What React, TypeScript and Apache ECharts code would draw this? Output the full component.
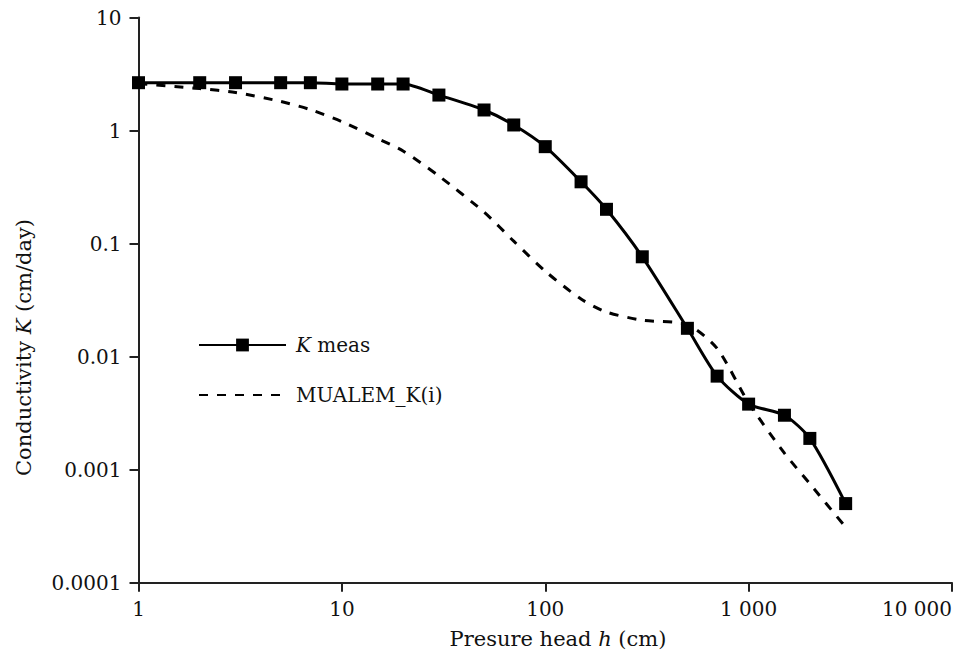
import React, { useEffect, useRef } from "react";
import * as echarts from "echarts";

const hValues = [1, 2, 3, 5, 7, 10, 15, 20, 30, 50, 70, 100, 150, 200, 300, 500, 700, 1000, 1500, 2000, 3000];
const kMeas = [2.65, 2.65, 2.65, 2.65, 2.65, 2.58, 2.58, 2.58, 2.06, 1.52, 1.12, 0.72, 0.352, 0.201, 0.0764, 0.0178, 0.00672, 0.0038, 0.00303, 0.00189, 0.000501];
const kMualem = [2.6, 2.35, 2.17, 1.81, 1.53, 1.2, 0.85, 0.66, 0.396, 0.19, 0.105, 0.057, 0.0323, 0.0248, 0.021, 0.0192, 0.0118, 0.0039, 0.0014, 0.00075, 0.00031];
const xTickLabels = ["1", "10", "100", "1 000", "10 000"];
const yTickLabels = ["0.0001", "0.001", "0.01", "0.1", "1", "10"];
const seriesNames = ["K meas", "MUALEM_K(i)"];

const FONT = "DejaVu Serif";

export default function App() {
  const ref = useRef<HTMLDivElement>(null);
  useEffect(() => {
    document.body.style.margin = "0";
    const chart = echarts.init(ref.current!, undefined, { renderer: "svg" });
    const axisCommon = {
      type: "log" as const,
      logBase: 10,
      axisLine: { show: true, onZero: false, lineStyle: { color: "#222", width: 2 } },
      axisTick: { show: true, length: 9, lineStyle: { color: "#222", width: 2 } },
      minorTick: { show: false },
      splitLine: { show: false },
    };
    chart.setOption({
      animation: false,
      backgroundColor: "#fff",
      grid: {
        left: 138.5,
        right: 5,
        top: 17.5,
        bottom: 72.3,
        containLabel: false,
        outerBoundsMode: "none",
      },
      xAxis: {
        ...axisCommon,
        min: 1,
        max: 10000,
        axisLabel: {
          margin: 16,
          color: "#111",
          fontFamily: FONT,
          fontSize: 20,
          hideOverlap: false,
          alignMaxLabel: "right",
          formatter: (v: number) => xTickLabels[Math.round(Math.log10(v))],
        },
      },
      yAxis: {
        ...axisCommon,
        min: 0.0001,
        max: 10,
        axisLabel: {
          margin: 17,
          color: "#111",
          fontFamily: FONT,
          fontSize: 20,
          formatter: (v: number) => yTickLabels[Math.round(Math.log10(v)) + 4],
        },
      },
      legend: {
        orient: "vertical",
        left: 193,
        top: 330,
        itemWidth: 87,
        itemHeight: 16,
        itemGap: 30,
        data: [
          { name: seriesNames[0] },
          { name: seriesNames[1], itemStyle: { opacity: 0 } },
        ],
        formatter: (name: string) => (name === "K meas" ? "{i|K}{t| meas}" : "{t|" + name + "}"),
        textStyle: {
          color: "#111",
          fontFamily: FONT,
          fontSize: 20,
          padding: [0, 0, 0, 5],
          rich: {
            i: { fontStyle: "italic", fontFamily: FONT, fontSize: 20, color: "#111" },
            t: { fontFamily: FONT, fontSize: 20, color: "#111" },
          },
        },
      },
      graphic: [
        {
          type: "text",
          x: 558,
          y: 639,
          style: {
            text: "{t|Presure head }{i|h}{t| (cm)}",
            align: "center",
            verticalAlign: "middle",
            rich: {
              t: { fontFamily: FONT, fontSize: 21, fill: "#111" },
              i: { fontFamily: FONT, fontSize: 21, fontStyle: "italic", fill: "#111" },
            },
          },
        },
        {
          type: "text",
          x: 24,
          y: 347.5,
          rotation: Math.PI / 2,
          style: {
            text: "{t|Conductivity }{i|K}{t| (cm/day)}",
            align: "center",
            verticalAlign: "middle",
            rich: {
              t: { fontFamily: FONT, fontSize: 21, fill: "#111" },
              i: { fontFamily: FONT, fontSize: 21, fontStyle: "italic", fill: "#111" },
            },
          },
        },
      ],
      series: [
        {
          name: seriesNames[0],
          type: "line",
          data: hValues.map((h, i) => [h, kMeas[i]]),
          symbol: "rect",
          symbolSize: 13,
          smooth: 0.25,
          itemStyle: { color: "#000" },
          lineStyle: { color: "#000", width: 3 },
          z: 3,
        },
        {
          name: seriesNames[1],
          type: "line",
          data: hValues.map((h, i) => [h, kMualem[i]]),
          symbol: "none",
          smooth: 0.25,
          itemStyle: { color: "#000" },
          lineStyle: { color: "#000", width: 3, type: [9, 9] },
          z: 2,
        },
      ],
    });
    return () => chart.dispose();
  }, []);
  return <div ref={ref} style={{ width: 957, height: 655 }} />;
}
